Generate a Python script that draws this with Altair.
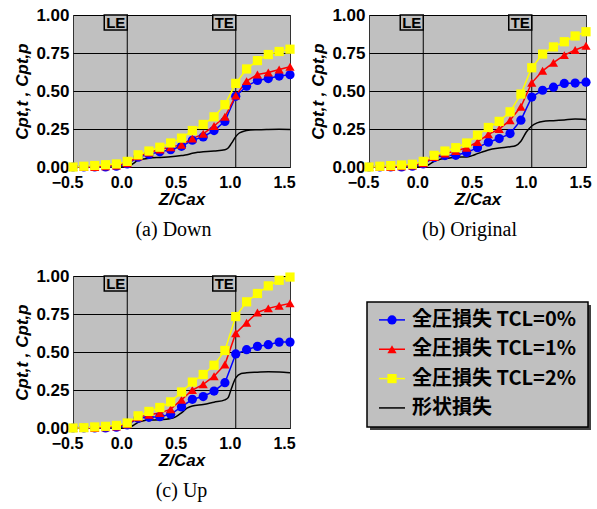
import altair as alt
import pandas as pd

# ---------------- data ----------------
X = [-0.5, -0.4, -0.3, -0.2, -0.1, 0.0, 0.1, 0.2, 0.3, 0.4, 0.5,
     0.6, 0.7, 0.8, 0.9, 1.0, 1.1, 1.2, 1.3, 1.4, 1.5]

S0 = "全圧損失 TCL=0%"
S1 = "全圧損失 TCL=1%"
S2 = "全圧損失 TCL=2%"
SP = "形状損失"
SERIES = [S0, S1, S2, SP]
COLORS = ["#0000ff", "#ff0000", "#ffff00", "#000000"]
SHAPES = ["circle", "triangle-up", "square"]

# (a) Down
down_tcl0 = [0.0, 0.0, 0.0, 0.0, 0.005, 0.02, 0.065, 0.083, 0.1, 0.114, 0.136,
             0.176, 0.198, 0.24, 0.30, 0.465, 0.532, 0.569, 0.582, 0.598, 0.607]
down_tcl1 = [0.0, 0.0, 0.0, 0.005, 0.01, 0.025, 0.07, 0.095, 0.115, 0.13, 0.147,
             0.187, 0.218, 0.27, 0.33, 0.47, 0.565, 0.609, 0.622, 0.642, 0.659]
down_tcl2 = [0.0, 0.005, 0.01, 0.015, 0.02, 0.037, 0.08, 0.105, 0.13, 0.158, 0.19,
             0.24, 0.28, 0.33, 0.41, 0.55, 0.645, 0.70, 0.74, 0.76, 0.775]
down_shape_x = [-0.5, 0.0, 0.05, 0.1, 0.15, 0.2, 0.3, 0.4, 0.5, 0.55, 0.6, 0.65, 0.7,
                0.8, 0.9, 0.93, 0.96, 1.0, 1.03, 1.06, 1.1, 1.2, 1.3, 1.4, 1.5]
down_shape_y = [0.0, 0.0, 0.02, 0.045, 0.053, 0.058, 0.063, 0.067, 0.075, 0.08, 0.09, 0.097, 0.1,
                0.106, 0.113, 0.125, 0.155, 0.2, 0.222, 0.232, 0.24, 0.245, 0.247, 0.248, 0.247]

# (b) Original
orig_tcl0 = [0.0, 0.0, 0.0, 0.0, 0.005, 0.02, 0.062, 0.075, 0.077, 0.095, 0.127,
             0.163, 0.187, 0.22, 0.308, 0.46, 0.505, 0.525, 0.55, 0.552, 0.558]
orig_tcl1 = [0.0, 0.0, 0.0, 0.005, 0.01, 0.025, 0.065, 0.088, 0.105, 0.127, 0.165,
             0.215, 0.25, 0.308, 0.396, 0.554, 0.633, 0.686, 0.736, 0.77, 0.798]
orig_tcl2 = [0.0, 0.005, 0.009, 0.013, 0.018, 0.037, 0.077, 0.105, 0.127, 0.158, 0.21,
             0.26, 0.30, 0.363, 0.48, 0.653, 0.743, 0.79, 0.824, 0.862, 0.89]
orig_shape_x = [-0.5, 0.0, 0.05, 0.1, 0.15, 0.2, 0.3, 0.4, 0.45, 0.5, 0.55, 0.6, 0.7,
                0.8, 0.85, 0.9, 0.95, 1.0, 1.05, 1.1, 1.2, 1.3, 1.4, 1.5]
orig_shape_y = [0.0, 0.0, 0.015, 0.037, 0.05, 0.055, 0.064, 0.066, 0.075, 0.088, 0.1, 0.112, 0.125,
                0.133, 0.14, 0.17, 0.23, 0.27, 0.29, 0.30, 0.305, 0.31, 0.315, 0.313]

# (c) Up
up_tcl0 = [0.0, 0.0, 0.0, 0.0, 0.005, 0.02, 0.065, 0.07, 0.074, 0.09, 0.139,
           0.189, 0.207, 0.243, 0.298, 0.487, 0.515, 0.537, 0.548, 0.565, 0.565]
up_tcl1 = [0.0, 0.0, 0.0, 0.005, 0.01, 0.025, 0.07, 0.087, 0.098, 0.124, 0.185,
           0.25, 0.287, 0.341, 0.417, 0.624, 0.693, 0.76, 0.787, 0.804, 0.82]
up_tcl2 = [0.0, 0.002, 0.007, 0.011, 0.017, 0.033, 0.08, 0.109, 0.135, 0.172, 0.237,
           0.302, 0.352, 0.413, 0.51, 0.733, 0.83, 0.885, 0.935, 0.972, 0.993]
up_shape_x = [-0.5, 0.0, 0.05, 0.1, 0.15, 0.2, 0.3, 0.4, 0.45, 0.5, 0.55, 0.6, 0.7,
              0.8, 0.9, 0.93, 0.96, 1.0, 1.05, 1.1, 1.2, 1.3, 1.4, 1.5]
up_shape_y = [0.0, 0.0, 0.015, 0.037, 0.048, 0.052, 0.054, 0.062, 0.075, 0.1, 0.13, 0.145, 0.155,
              0.17, 0.185, 0.2, 0.26, 0.33, 0.358, 0.363, 0.367, 0.37, 0.368, 0.363]

MARK_POS = [0.0, 1.0]
MARK_LABELS = ["LE", "TE"]

X_TICKS = [-0.5, 0.0, 0.5, 1.0, 1.5]
Y_TICKS = [0.0, 0.25, 0.5, 0.75, 1.0]

# ---------------- style ----------------
SANS = "Liberation Sans"
BG = "#c0c0c0"
PW, PH = 217, 152

color_scale = alt.Scale(domain=SERIES, range=COLORS)
shape_scale = alt.Scale(domain=[S0, S1, S2], range=SHAPES)


def panel(t0, t1, t2, shx, shy, subtitle, dx):
    n = len(X)
    pts = pd.DataFrame({
        "x": X * 3,
        "y": t0 + t1 + t2,
        "series": [S0] * n + [S1] * n + [S2] * n,
    })
    shp = pd.DataFrame({"x": shx, "y": shy, "series": [SP] * len(shx)})
    marks = pd.DataFrame({"pos": MARK_POS, "label": MARK_LABELS})

    xscale = alt.Scale(domain=[-0.5, 1.5], nice=False, zero=False)
    yscale = alt.Scale(domain=[0, 1], nice=False)
    xaxis = alt.Axis(values=X_TICKS, format=".1f", title="Z/Cax", grid=False, ticks=False,
                     domain=False, labelFont=SANS, labelFontSize=16, labelFontWeight="bold",
                     labelColor="black", labelPadding=7, labelOffset=-6, labelOverlap=False,
                     labelFlush=False, labelBound=False,
                     titleFont=SANS, titleFontSize=17, titleFontWeight="bold",
                     titleFontStyle="italic", titleColor="black", titlePadding=1)
    yaxis = alt.Axis(values=Y_TICKS, format=".2f", title="Cpt,t , Cpt,p", grid=True,
                     gridColor="black", gridWidth=1, gridOpacity=1, ticks=False, domain=False,
                     labelFont=SANS, labelFontSize=17, labelFontWeight="bold",
                     labelColor="black", labelPadding=4, labelOverlap=False,
                     labelFlush=False, labelBound=False,
                     titleFont=SANS, titleFontSize=17, titleFontWeight="bold",
                     titleFontStyle="italic", titleColor="black", titlePadding=4)

    xe = alt.X("x:Q", scale=xscale, axis=xaxis)
    ye = alt.Y("y:Q", scale=yscale, axis=yaxis)

    shape_line = alt.Chart(shp).mark_line(strokeWidth=1.5, interpolate="monotone").encode(
        x=xe, y=ye,
        color=alt.Color("series:N", scale=color_scale, legend=None),
    )
    lines = alt.Chart(pts).mark_line(strokeWidth=1.5).encode(
        x=xe, y=ye,
        color=alt.Color("series:N", scale=color_scale, legend=None),
        detail="series:N",
    )
    points = alt.Chart(pts).mark_point(filled=True, size=85, opacity=1).encode(
        x=xe, y=ye,
        color=alt.Color("series:N", scale=color_scale, legend=None),
        shape=alt.Shape("series:N", scale=shape_scale, legend=None),
    )
    rules = alt.Chart(marks).mark_rule(color="black", strokeWidth=1).encode(
        x=alt.X("pos:Q", scale=xscale, axis=xaxis),
    )
    boxes = alt.Chart(marks).mark_rect(fill=BG, stroke="black", strokeWidth=1.5,
                                       xOffset=-23, x2Offset=0).encode(
        x=alt.X("pos:Q", scale=xscale, axis=xaxis),
        x2="pos:Q",
        y=alt.value(0), y2=alt.value(15),
    )
    labels = alt.Chart(marks).mark_text(font=SANS, fontSize=15, fontWeight="bold",
                                        color="black", align="center", baseline="middle",
                                        dx=-11.5).encode(
        x=alt.X("pos:Q", scale=xscale, axis=xaxis),
        y=alt.value(8),
        text="label:N",
    )
    return alt.layer(rules, shape_line, lines, points, boxes, labels).properties(
        width=PW, height=PH,
        view=alt.ViewBackground(fill=BG, stroke="#333333", strokeWidth=1),
        title=alt.TitleParams(text=subtitle, orient="bottom", font="Liberation Serif",
                              fontSize=20, fontWeight="normal", color="black",
                              offset=13, dx=dx, frame="group", anchor="middle"),
    )


pa = panel(down_tcl0, down_tcl1, down_tcl2, down_shape_x, down_shape_y, "(a) Down", -8)
pb = panel(orig_tcl0, orig_tcl1, orig_tcl2, orig_shape_x, orig_shape_y, "(b) Original", -8)
pc = panel(up_tcl0, up_tcl1, up_tcl2, up_shape_x, up_shape_y, "(c) Up", 0)

# ---------------- legend ----------------
LW, LH = 221, 125
leg = pd.DataFrame({"row": [0, 1, 2, 3], "label": SERIES, "series": SERIES})
one = pd.DataFrame({"a": [0]})
ly = alt.Y("row:Q", scale=alt.Scale(domain=[-0.61, 3.65], nice=False, zero=False, reverse=True),
           axis=None)

shadow = alt.Chart(one).mark_rect(fill="#404040").encode(
    x=alt.value(3), x2=alt.value(LW + 3), y=alt.value(3), y2=alt.value(LH + 3))
box = alt.Chart(one).mark_rect(fill=BG, stroke="black", strokeWidth=1.5).encode(
    x=alt.value(0), x2=alt.value(LW), y=alt.value(0), y2=alt.value(LH))
leg_lines = alt.Chart(leg).mark_rule(strokeWidth=1.5).encode(
    x=alt.value(12), x2=alt.value(38), y=ly,
    color=alt.Color("series:N", scale=color_scale, legend=None))
leg_pts = alt.Chart(leg).transform_filter("datum.row < 3").mark_point(
    filled=True, size=85, opacity=1).encode(
    x=alt.value(25), y=ly,
    color=alt.Color("series:N", scale=color_scale, legend=None),
    shape=alt.Shape("series:N", scale=shape_scale, legend=None))
leg_text = alt.Chart(leg).mark_text(font="Noto Sans CJK JP", fontSize=20, fontWeight="bold",
                                    color="black", align="left", baseline="middle").encode(
    x=alt.value(45), y=ly, text="label:N")
legend = alt.layer(shadow, box, leg_lines, leg_pts, leg_text).properties(
    width=LW, height=LH, view=alt.ViewBackground(stroke="transparent", fill="transparent"))

spacer = alt.Chart(one).mark_point(size=0, opacity=0).encode(
    x=alt.value(0), y=alt.value(0)).properties(
    width=LW, height=1, view=alt.ViewBackground(stroke="transparent", fill="transparent"))

legend_col = alt.vconcat(spacer, legend, spacing=22)

row1 = alt.hconcat(pa, pb, spacing=13)
row2 = alt.hconcat(pc, legend_col, spacing=69)

chart = alt.vconcat(row1, row2, spacing=25).properties(
    padding={"left": 13, "top": 5, "right": 0, "bottom": 0},
    background="white",
)

chart.save("out.html", embed_options={"renderer": "svg", "actions": False})
